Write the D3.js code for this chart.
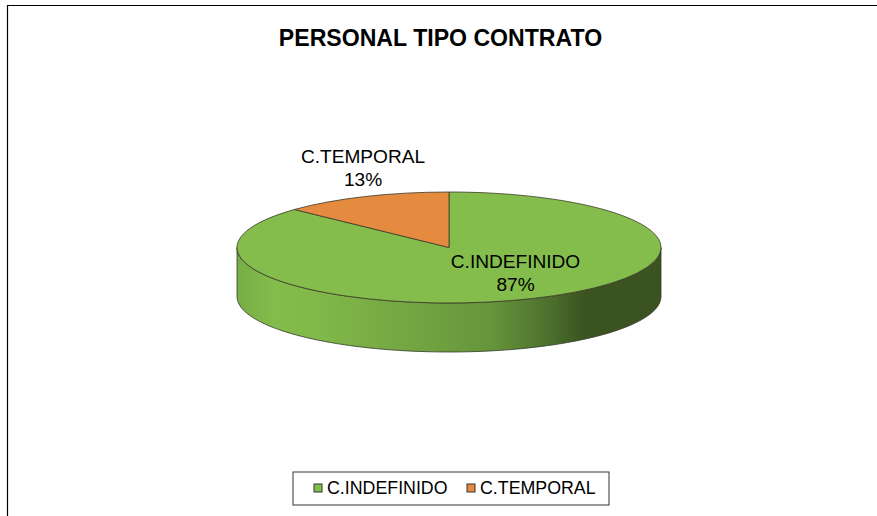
<!DOCTYPE html>
<html><head><meta charset="utf-8">
<script src="https://cdn.jsdelivr.net/npm/d3@7/dist/d3.min.js"></script>
<style>html,body{margin:0;padding:0;background:#fff}svg{display:block}text{font-family:"Liberation Sans",Arial,sans-serif;fill:#000}</style>
</head><body><script>
const categories=["C.INDEFINIDO","C.TEMPORAL"];
const values=[87,13];
const colors=["#84bd4b","#e58b40"];
const title="PERSONAL TIPO CONTRATO";
const W=877,H=516,cx=449,cy=247.5,rx=212,ry=55.5,depth=49;
const svg=d3.select("body").append("svg").attr("width",W).attr("height",H);
// frame
svg.append("path").attr("d",d3.line()([[7.5,516],[7.5,5.5],[877,5.5]])).attr("fill","none").attr("stroke","#000").attr("stroke-width",1.2);
svg.append("text").attr("x",440.5).attr("y",46).attr("text-anchor","middle").attr("font-weight","bold").attr("font-size",23.1).text(title);
// gradient
const stops=[[0,"#76ad45"],[0.09,"#84bd4b"],[0.2,"#80b849"],[0.4,"#74a642"],[0.6,"#66953b"],[0.74,"#4c6f2d"],[0.82,"#3a5320"],[1,"#3a5320"]];
const grad=svg.append("defs").append("linearGradient").attr("id","wall").attr("gradientUnits","userSpaceOnUse")
 .attr("x1",cx-rx).attr("x2",cx+rx).attr("y1",0).attr("y2",0);
grad.selectAll("stop").data(stops).join("stop").attr("offset",d=>d[0]).attr("stop-color",d=>d[1]);
// wall
const angles=d3.range(0,181,2).map(d=>d*Math.PI/180);
const wall=d3.area().x(a=>cx-rx*Math.cos(a)).y0(a=>cy+ry*Math.sin(a)).y1(a=>cy+ry*Math.sin(a)+depth);
svg.append("path").attr("d",wall(angles)).attr("fill","url(#wall)").attr("stroke","#333a28").attr("stroke-width",0.8);
// top face
const pie=d3.pie().sort(null).startAngle(0).endAngle(2*Math.PI);
const arc=d3.arc().innerRadius(0).outerRadius(rx);
const face=svg.append("g").attr("transform",`translate(${cx},${cy}) scale(1,${ry/rx})`);
face.selectAll("path").data(pie(values)).join("path").attr("d",arc).attr("fill",(d,i)=>colors[i])
 .attr("stroke","#3a3a28").attr("stroke-width",0.8).attr("vector-effect","non-scaling-stroke");
// labels
const labels=[[515.5,268,290.5],[363,163,185.5]];
labels.forEach((l,i)=>{
 svg.append("text").attr("x",l[0]).attr("y",l[1]).attr("text-anchor","middle").attr("font-size",19.1).text(categories[i]);
 svg.append("text").attr("x",l[0]).attr("y",l[2]).attr("text-anchor","middle").attr("font-size",19.1).text(values[i]+"%");
});
// legend
svg.append("rect").attr("x",293).attr("y",472).attr("width",316).attr("height",33).attr("fill","#fff").attr("stroke","#333").attr("stroke-width",1);
const lg=[[314,327],[467,480]];
lg.forEach((l,i)=>{
 svg.append("rect").attr("x",l[0]).attr("y",484).attr("width",8).attr("height",8).attr("fill",colors[i]).attr("stroke","#333").attr("stroke-width",1);
 svg.append("text").attr("x",l[1]).attr("y",494).attr("font-size",17.8).text(categories[i]);
});
</script></body></html>
